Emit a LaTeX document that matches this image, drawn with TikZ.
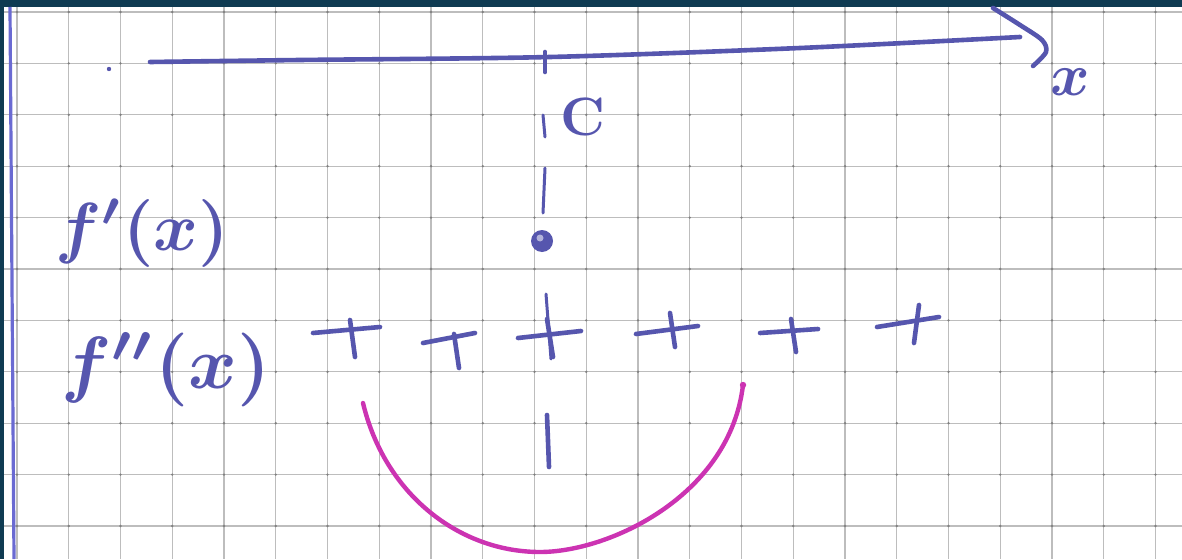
\documentclass[tikz,border=0pt]{standalone}
\definecolor{pen}{HTML}{5656AE}
\definecolor{pink}{HTML}{CC33B2}
\definecolor{band}{HTML}{0F3B52}
\definecolor{gridc}{HTML}{BDBDBD}
\definecolor{gridd}{HTML}{808080}
\definecolor{marg}{HTML}{6A6AD2}
\begin{document}
\begin{tikzpicture}[x=1pt,y=-1pt,
  ink/.style={draw=pen, line width=4.6pt, line cap=round, line join=round},
  thinink/.style={draw=pen, line width=3pt, line cap=round},
  pinkink/.style={draw=pink, line width=4.4pt, line cap=round, line join=round},
  lbl/.style={text=pen, inner sep=0pt, font=\boldmath\bfseries}]
\useasboundingbox (0,0) rectangle (1182,559);
\fill[white] (0,0) rectangle (1182,559);
% grid paper
\foreach \k in {0,...,22} \draw[gridc, line width=1.1pt] ({17+51.75*\k},7) -- ({17+51.75*\k},559);
\foreach \k in {0,...,10} \draw[gridc, line width=1.1pt] (4,{12+51.4*\k}) -- (1182,{12+51.4*\k});
\foreach \i in {0,...,22} \foreach \j in {0,...,10} \fill[gridd] ({17+51.75*\i},{12+51.4*\j}) circle (1.3);
% dark bands
\fill[band] (0,0) rectangle (1182,7);
\fill[band] (0,0) rectangle (4,559);
% margin line
\draw[marg, line width=3.2pt] (10,7) -- (14,559);
% axis
\coordinate (a0) at (150,62);
\coordinate (a1) at (1020,37);
\draw[ink] plot[smooth] coordinates {(a0) (300,60) (550,57) (800,48) (a1)};
\draw[ink] plot[smooth] coordinates {(993,8) (1020,25) (1042,40) (1046,52) (1033,66)};
\node[lbl, scale=6] (xl) at (1070,82) {$x$};
\fill[pen] (109,69) circle (2.2);
% dashed vertical at c
\draw[ink] (545,52) -- (545,72);
\draw[thinink] (543,115) -- (545,137);
\draw[thinink] (545,168) -- (543,213);
\node[lbl, scale=5.4] (c) at (583,117) {C};
\node[circle, fill=pen, minimum size=22pt, inner sep=0pt] (pt) at (542,241) {};
\fill[white!55!pen] (540,238) circle (3.5);
\draw[thinink] (546,294) -- (551,359);
\draw[ink] (547,415) -- (549,467);
% labels
\node[lbl, scale=6.8, anchor=base west] (fp) at (54,250) {$f'(x)$};
\node[lbl, scale=7.4, anchor=base west] (fpp) at (60,388) {$f''(x)$};
% plus signs
\draw[ink] (313,333) -- (380,327); \draw[ink] (350,320) -- (355,357);
\draw[ink] (423,343) -- (475,333); \draw[ink] (454,334) -- (459,368);
\draw[ink] (518,338) -- (581,331); \draw[ink] (547,319) -- (553,357);
\draw[ink] (636,334) -- (698,326); \draw[ink] (670,313) -- (675,347);
\draw[ink] (760,333) -- (818,329); \draw[ink] (791,319) -- (796,352);
\draw[ink] (877,327) -- (939,317); \draw[ink] (919,305) -- (914,343);
% magenta arc
\coordinate (m0) at (363,403);
\coordinate (m1) at (540,552);
\coordinate (m2) at (743,385);
\draw[pinkink] (m0) .. controls (385,495) and (460,552) .. (m1) .. controls (610,552) and (730,495) .. (m2);
\fill[pink] (m2) circle (3.2);
\end{tikzpicture}
\end{document}
